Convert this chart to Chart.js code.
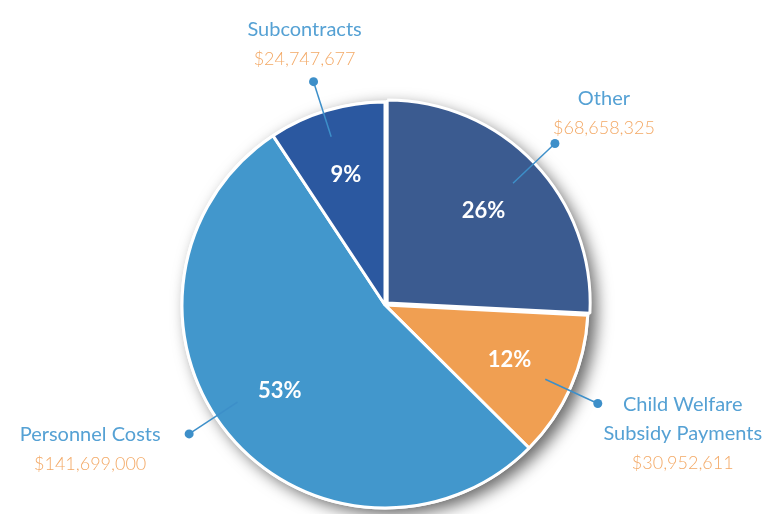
<!DOCTYPE html>
<html>
<head>
<meta charset="utf-8">
<script src="https://cdn.jsdelivr.net/npm/chart.js@4.4.1/dist/chart.umd.min.js"></script>
<style>
  html, body { margin: 0; padding: 0; background: #ffffff; }
  #wrap { width: 765px; height: 514px; position: relative; }
</style>
</head>
<body>
<div id="wrap"><canvas id="c" width="765" height="514"></canvas></div>
<script>
// ---- data ----
const categories = ['Other', 'Child Welfare Subsidy Payments', 'Personnel Costs', 'Subcontracts'];
const labelLines = [['Other'], ['Child Welfare', 'Subsidy Payments'], ['Personnel Costs'], ['Subcontracts']];
const amounts = [68658325, 30952611, 141699000, 24747677];

// ---- style ----
const sliceColors = ['#3b5b90', '#f09f52', '#4297cc', '#2b58a0'];
const sliceOffsets = [12, 0, 0, 0];
const labelColor = '#55a1d4';
const valueColor = '#f3a966';
const leaderColor = '#3d8fc9';
// callout geometry: angle nudge (deg), text block offset from dot, text alignment
const callouts = [
  { nudge: 0,  dx: 49,  dy: -45, above: true },
  { nudge: 1,  dx: 85,  dy: 1,   above: false },
  { nudge: 6,  dx: -99, dy: 1,   above: false },
  { nudge: -1, dx: -9,  dy: -52, above: true }
];
const lineH = 29.5;

const shadowPlugin = {
  id: 'pieShadow',
  beforeDatasetsDraw(chart) {
    const arc = chart.getDatasetMeta(0).data[0];
    if (!arc) return;
    const ctx = chart.ctx;
    ctx.save();
    ctx.shadowColor = 'rgba(0,0,0,0.6)';
    ctx.shadowBlur = 16;
    ctx.shadowOffsetX = 7;
    ctx.shadowOffsetY = 5;
    ctx.fillStyle = '#ffffff';
    ctx.beginPath();
    ctx.arc(arc.x, arc.y, arc.outerRadius + 1.5, 0, Math.PI * 2);
    ctx.fill();
    ctx.restore();
  }
};

const labelPlugin = {
  id: 'calloutLabels',
  afterDatasetsDraw(chart) {
    const ctx = chart.ctx;
    const meta = chart.getDatasetMeta(0);
    const total = amounts.reduce((a, b) => a + b, 0);
    meta.data.forEach((arc, i) => {
      const mid = (arc.startAngle + arc.endAngle) / 2;
      const R = arc.outerRadius;
      // percent label
      const pr = R * 0.67;
      ctx.save();
      ctx.fillStyle = '#ffffff';
      ctx.font = '700 22px Lato, "Open Sans", sans-serif';
      ctx.textAlign = 'center';
      ctx.textBaseline = 'middle';
      ctx.fillText(Math.round(amounts[i] / total * 100) + '%', arc.x + Math.cos(mid) * pr, arc.y + Math.sin(mid) * pr);
      // leader line
      const c = callouts[i];
      const a = mid + c.nudge * Math.PI / 180;
      const x1 = arc.x + Math.cos(a) * R * 0.87, y1 = arc.y + Math.sin(a) * R * 0.87;
      const x2 = arc.x + Math.cos(a) * R * 1.155, y2 = arc.y + Math.sin(a) * R * 1.155;
      ctx.strokeStyle = leaderColor;
      ctx.lineWidth = 1.5;
      ctx.beginPath();
      ctx.moveTo(x1, y1);
      ctx.lineTo(x2, y2);
      ctx.stroke();
      ctx.fillStyle = leaderColor;
      ctx.beginPath();
      ctx.arc(x2, y2, 4.5, 0, Math.PI * 2);
      ctx.fill();
      // text block
      const lines = labelLines[i];
      const n = lines.length + 1;
      const tx = x2 + c.dx;
      const firstY = c.above ? (y2 + c.dy - (n - 1) * lineH + lineH) : (y2 + c.dy);
      ctx.textAlign = 'center';
      ctx.textBaseline = 'middle';
      lines.forEach((t, k) => {
        ctx.fillStyle = labelColor;
        ctx.font = '400 20px Lato, "Open Sans", sans-serif';
        ctx.fillText(t, tx, firstY + k * lineH);
      });
      ctx.fillStyle = valueColor;
      ctx.font = '300 18px Lato, "Open Sans", sans-serif';
      ctx.fillText('$' + amounts[i].toLocaleString('en-US'), tx, firstY + lines.length * lineH);
      ctx.restore();
    });
  }
};

new Chart(document.getElementById('c'), {
  type: 'pie',
  data: {
    labels: categories,
    datasets: [{
      data: amounts,
      backgroundColor: sliceColors,
      borderColor: '#ffffff',
      borderWidth: 3,
      offset: sliceOffsets
    }]
  },
  options: {
    responsive: false,
    animation: false,
    events: [],
    radius: 203,
    layout: { padding: { top: 100, bottom: 4, left: 5, right: 0 } },
    plugins: { legend: { display: false }, tooltip: { enabled: false } }
  },
  plugins: [shadowPlugin, labelPlugin]
});
</script>
</body>
</html>
